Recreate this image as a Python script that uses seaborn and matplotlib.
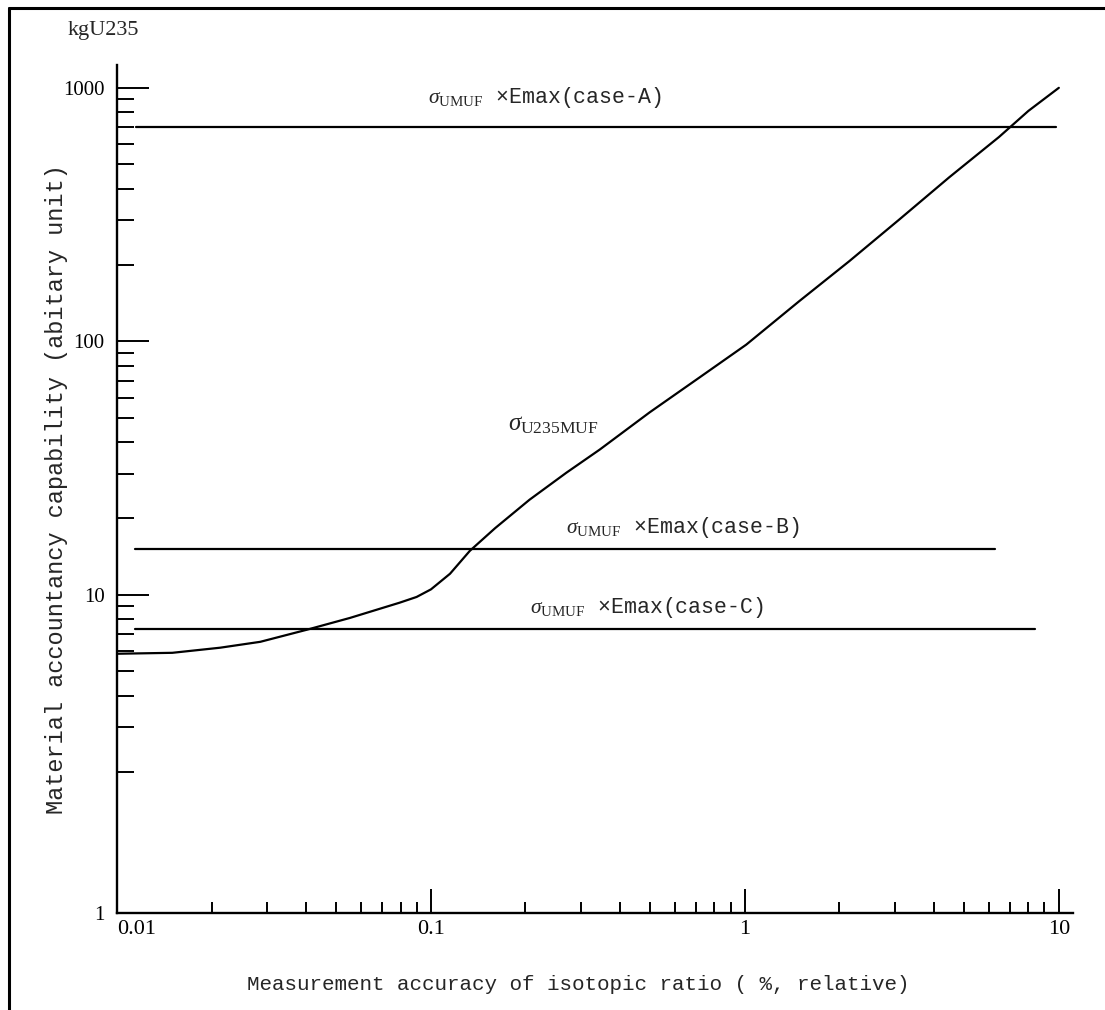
import numpy as np
import pandas as pd
import matplotlib
matplotlib.use("Agg")
import matplotlib.pyplot as plt
import seaborn as sns
from matplotlib.ticker import FixedLocator, FixedFormatter, LogLocator, NullFormatter
from matplotlib.lines import Line2D

sns.set_theme(style="ticks")
plt.rcParams["font.family"] = ["Liberation Serif", "DejaVu Sans"]
plt.rcParams["mathtext.fontset"] = "custom"
plt.rcParams["mathtext.rm"] = "Liberation Serif"
plt.rcParams["mathtext.it"] = "Liberation Serif:italic"

# sigma U235 MUF curve
accuracy = [0.01, 0.015, 0.0213, 0.0286, 0.0403, 0.0552, 0.0794, 0.09, 0.1, 0.115,
            0.133, 0.16, 0.206, 0.27, 0.345, 0.497, 0.717, 1.01, 1.49, 2.15,
            3.10, 4.47, 6.45, 8.0, 10.0]
u235_muf = [5.85, 5.9, 6.18, 6.52, 7.28, 8.1, 9.3, 9.8, 10.5, 12.1,
            14.9, 18.3, 23.7, 30.3, 37.4, 52.4, 72.0, 97.0, 144.0, 207.0,
            302.0, 443.0, 640.0, 811.0, 1000.0]

# sigma UMUF x Emax levels
case_names = ["case-A", "case-B", "case-C"]
case_levels = [700.0, 15.2, 7.35]
case_x_start = [0.0115, 0.0114, 0.0114]
case_x_end = [9.8, 6.25, 8.4]

x_ticks = [0.01, 0.1, 1, 10]
x_tick_labels = ["0.01", "0.1", "1", "10"]
y_ticks = [1, 10, 100, 1000]
y_tick_labels = ["1", "10", "100", "1000"]

fig = plt.figure(figsize=(11.05, 10.10), dpi=100)
ax = fig.add_axes([0.1059, 0.0960, 0.8652, 0.8396])

# the original log axis is stretched between 1 and 2
l2 = np.log10(2)
stretch = 1.85


def fwd(y):
    l = np.log10(np.clip(np.asarray(y, float), 1e-6, None))
    return np.where(l < l2, l2 - (l2 - l) * stretch, l)


def inv(v):
    v = np.asarray(v, float)
    return np.where(v < l2, 10 ** (l2 - (l2 - v) / stretch), 10 ** v)


ax.set_xscale("log")
ax.set_yscale("function", functions=(fwd, inv))

curve_df = pd.DataFrame({"acc": accuracy, "muf": u235_muf})
sns.lineplot(data=curve_df, x="acc", y="muf", ax=ax, color="black", lw=1.6)
for lvl, x0, x1 in zip(case_levels, case_x_start, case_x_end):
    sns.lineplot(x=[x0, x1], y=[lvl, lvl], ax=ax, color="black", lw=1.6)

ax.set_xlim(0.01, 11.1)
ax.set_ylim(1, 1230)

ax.xaxis.set_major_locator(FixedLocator(x_ticks))
ax.xaxis.set_major_formatter(FixedFormatter(x_tick_labels))
ax.xaxis.set_minor_locator(LogLocator(base=10, subs=np.arange(2, 10), numticks=20))
ax.xaxis.set_minor_formatter(NullFormatter())
ax.yaxis.set_major_locator(FixedLocator(y_ticks))
ax.yaxis.set_major_formatter(FixedFormatter(y_tick_labels))
ax.yaxis.set_minor_locator(LogLocator(base=10, subs=np.arange(2, 10), numticks=20))
ax.yaxis.set_minor_formatter(NullFormatter())

ax.tick_params(axis="both", which="both", direction="in", colors="black", width=1.4)
ax.tick_params(axis="y", which="major", length=23, pad=9, labelsize=15)
ax.tick_params(axis="y", which="minor", length=12)
ax.tick_params(axis="x", which="major", length=17, pad=5, labelsize=16)
ax.tick_params(axis="x", which="minor", length=8)
ax.xaxis.get_major_ticks()[0].label1.set_horizontalalignment("left")

sns.despine(ax=ax)
for s in ["left", "bottom"]:
    ax.spines[s].set_linewidth(1.7)
    ax.spines[s].set_color("black")
ax.set_xlabel("")
ax.set_ylabel("")

fig.text(578 / 1105, 1 - 985 / 1010, "Measurement accuracy of isotopic ratio ( %, relative)",
         family="Liberation Mono", size=15, ha="center", va="center")
fig.text(57 / 1105, 1 - 489 / 1010, "Material accountancy capability (abitary unit)",
         family="Liberation Mono", size=17, ha="center", va="center", rotation=90)
fig.text(103 / 1105, 1 - 30 / 1010, "kgU235", size=16, ha="center", va="center")

sig = r"$\sigma_{\rm UMUF}$"
fig.text(545 / 1105, 1 - 98 / 1010, sig + " ×Emax(" + case_names[0] + ")",
         family="Liberation Mono", size=15.5, ha="center", va="center")
fig.text(683 / 1105, 1 - 527 / 1010, sig + " ×Emax(" + case_names[1] + ")",
         family="Liberation Mono", size=15.5, ha="center", va="center")
fig.text(647 / 1105, 1 - 608 / 1010, sig + " ×Emax(" + case_names[2] + ")",
         family="Liberation Mono", size=15.5, ha="center", va="center")
fig.text(553 / 1105, 1 - 425 / 1010, r"$\sigma_{\rm U235MUF}$",
         size=18, ha="center", va="center")

# scanned page frame
fig.add_artist(Line2D([0.008, 0.008], [0, 0.992], transform=fig.transFigure, color="black", lw=2.2))
fig.add_artist(Line2D([0.008, 1], [0.992, 0.992], transform=fig.transFigure, color="black", lw=2.2))

fig.savefig("out.png", dpi=100, facecolor="white")
